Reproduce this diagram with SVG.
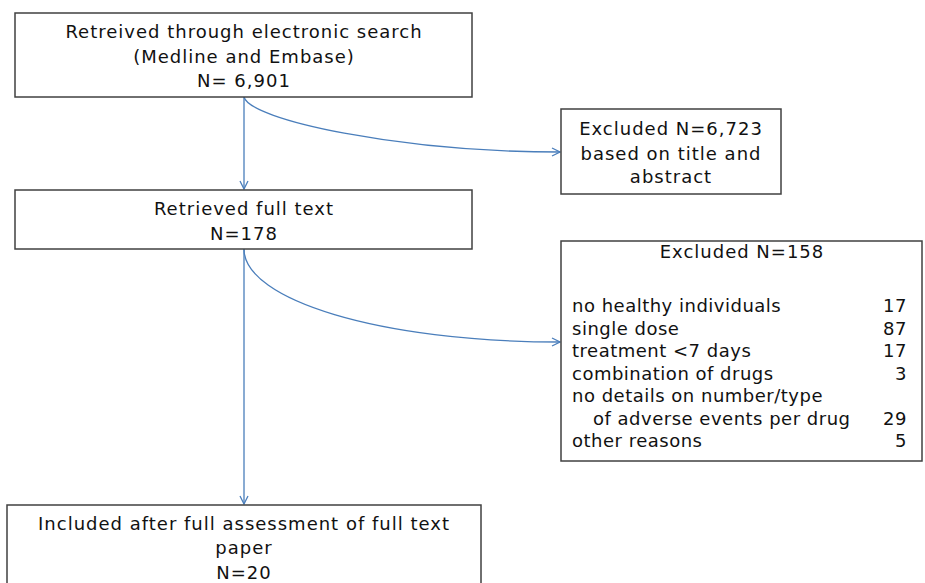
<svg xmlns="http://www.w3.org/2000/svg" width="925" height="583" viewBox="0 0 925 583">
<style>
.box{fill:#fff;stroke:#404040;stroke-width:1.5}
.t{font-family:"DejaVu Sans",Verdana,sans-serif;font-size:18px;fill:#111;letter-spacing:1px}
.c{text-anchor:middle}
.r{text-anchor:end}
.row{letter-spacing:0.5px}
.con{fill:none;stroke:#4a7ebb;stroke-width:1.3}
</style>
<defs>
<marker id="arr" viewBox="0 0 10 10" refX="9" refY="5" markerWidth="10" markerHeight="10" markerUnits="userSpaceOnUse" orient="auto">
<path d="M1,1 L9,5 L1,9" fill="none" stroke="#4a7ebb" stroke-width="1.3"/>
</marker>
</defs>
<rect width="925" height="583" fill="#fff"/>
<g id="connectors">
<path class="con" d="M244,97 L244,189" marker-end="url(#arr)"/>
<path class="con" d="M244,97 C250,120 400,152 560,152" marker-end="url(#arr)"/>
<path class="con" d="M244,249 L244,504" marker-end="url(#arr)"/>
<path class="con" d="M244,249 C244,300 380,342 560,342" marker-end="url(#arr)"/>
</g>
<g id="n1">
<rect class="box" x="15" y="13" width="457" height="84"/>
<text class="t c" x="244" y="38">Retreived through electronic search</text>
<text class="t c" x="244" y="63">(Medline and Embase)</text>
<text class="t c" x="244" y="87">N= 6,901</text>
</g>
<g id="n2">
<rect class="box" x="15" y="190" width="457" height="59"/>
<text class="t c" x="244" y="215">Retrieved full text</text>
<text class="t c" x="244" y="240">N=178</text>
</g>
<g id="n3">
<rect class="box" x="561" y="109" width="220" height="85"/>
<text class="t c" x="671" y="135">Excluded N=6,723</text>
<text class="t c" x="671" y="160">based on title and</text>
<text class="t c" x="671" y="183">abstract</text>
</g>
<g id="n4">
<rect class="box" x="561" y="241" width="361" height="220"/>
<text class="t c" x="742" y="258">Excluded N=158</text>
<text class="t row" x="572" y="312">no healthy individuals</text>
<text class="t row r" x="907" y="312">17</text>
<text class="t row" x="572" y="334.5">single dose</text>
<text class="t row r" x="907" y="334.5">87</text>
<text class="t row" x="572" y="357">treatment &lt;7 days</text>
<text class="t row r" x="907" y="357">17</text>
<text class="t row" x="572" y="379.5">combination of drugs</text>
<text class="t row r" x="907" y="379.5">3</text>
<text class="t row" x="572" y="402">no details on number/type</text>
<text class="t row" x="593" y="424.5">of adverse events per drug</text>
<text class="t row r" x="907" y="424.5">29</text>
<text class="t row" x="572" y="447">other reasons</text>
<text class="t row r" x="907" y="447">5</text>
</g>
<g id="n5">
<rect class="box" x="7" y="505" width="474" height="90"/>
<text class="t c" x="244" y="530">Included after full assessment of full text</text>
<text class="t c" x="244" y="554">paper</text>
<text class="t c" x="244" y="579">N=20</text>
</g>
</svg>
